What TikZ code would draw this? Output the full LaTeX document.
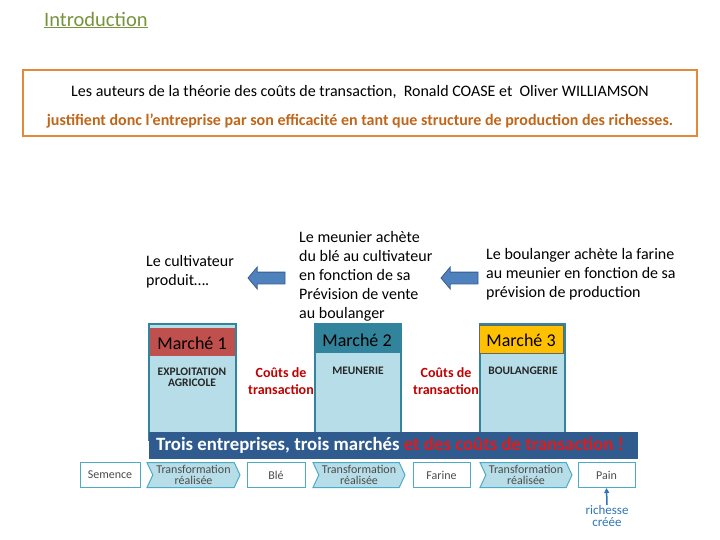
\documentclass[tikz,border=0pt]{standalone}
\usepackage{fontspec}
\setmainfont{Carlito}
\usetikzlibrary{shapes.symbols,shapes.arrows,arrows.meta}
\definecolor{introgreen}{HTML}{77933C}
\definecolor{boxorange}{HTML}{E3893A}
\definecolor{txtorange}{HTML}{C0661A}
\definecolor{arrowblue}{HTML}{4F81BD}
\definecolor{arrowedge}{HTML}{385D8A}
\definecolor{firmfill}{HTML}{B7DEE8}
\definecolor{firmedge}{HTML}{31859C}
\definecolor{mred}{HTML}{C0504D}
\definecolor{mteal}{HTML}{31849B}
\definecolor{myellow}{HTML}{FFC000}
\definecolor{banner}{HTML}{2F5B8F}
\definecolor{costred}{HTML}{C00000}
\definecolor{bannerred}{HTML}{E01B1B}
\definecolor{chainedge}{HTML}{4BACC6}
\definecolor{chainfill}{HTML}{B7DEE8}
\definecolor{richblue}{HTML}{2E75B6}
\tikzset{
  firm/.style={draw=firmedge, line width=1.2pt, fill=firmfill},
  plaintext/.style={font=\fontsize{16}{19}\selectfont, align=left, inner sep=0pt, anchor=north west},
  marche/.style={font=\fontsize{18}{20}\selectfont, inner sep=0pt},
  firmname/.style={font=\bfseries\fontsize{11.5}{11}\selectfont, text=black!85, align=center, inner sep=0pt},
  cost/.style={font=\bfseries\fontsize{14}{16.5}\selectfont, text=costred, align=center, inner sep=0pt},
  leftarrow/.style={single arrow, shape border rotate=180, draw=arrowedge, fill=arrowblue, line width=0.8pt, single arrow head extend=5pt, minimum height=37pt, inner sep=5.5pt, single arrow tip angle=100},
  chainbox/.style={draw=chainedge, line width=1pt, fill=white, minimum height=25pt, font=\fontsize{12}{12}\selectfont, text=black!70, inner sep=0pt},
  chevron/.style={signal, signal to=east, signal from=west, signal pointer angle=130, draw=chainedge, line width=1pt, fill=chainfill, minimum height=25pt, font=\fontsize{12}{11.5}\selectfont, text=black!70, align=center, inner sep=0pt}
}
\begin{document}
\begin{tikzpicture}[x=1pt,y=-1pt]
\useasboundingbox (0,0) rectangle (720,540);
% title
\node[anchor=west, inner sep=0pt, text=introgreen, font=\fontsize{20.5}{22}\selectfont] (intro) at (44,20) {\underline{Introduction}};
% orange box
\node[draw=boxorange, line width=1.2pt, minimum width=674pt, minimum height=66pt, inner sep=0pt] (frame) at (360,103) {};
\node[inner sep=0pt, font=\fontsize{16}{18}\selectfont] (line1) at (360,92) {Les auteurs de la théorie des coûts de transaction,\ \ Ronald COASE et\ \ Oliver WILLIAMSON};
\node[inner sep=0pt, font=\bfseries\fontsize{16}{18}\selectfont, text=txtorange] (line2) at (360,121) {justifient donc l’entreprise par son efficacité en tant que structure de production des richesses.};
% upper texts
\node[plaintext] (cult) at (146,255) {Le cultivateur\\produit….};
\node[plaintext] (meun) at (299,231) {Le meunier achète\\du blé au cultivateur\\en fonction de sa\\Prévision de vente\\au boulanger};
\node[plaintext] (boul) at (486,248) {Le boulanger achète la farine\\au meunier en fonction de sa\\prévision de production};
\node[leftarrow] (arr1) at (269,278) {};
\node[leftarrow] (arr2) at (462,278) {};
% firms
\draw[firm] (149,324) rectangle (236,440);
\node[fill=mred, minimum width=85pt, minimum height=28pt, inner sep=0pt] (m1box) at (192.5,342) {};
\node[marche] (m1) at (192,343) {Marché 1};
\node[firmname] (f1) at (192,377) {EXPLOITATION\\AGRICOLE};
\draw[firm] (315,324) rectangle (401,440);
\node[fill=mteal, minimum width=85pt, minimum height=29pt, inner sep=0pt] (m2box) at (358,338.5) {};
\node[marche] (m2) at (357,340) {Marché 2};
\node[firmname] (f2) at (358,371) {MEUNERIE};
\draw[firm] (480,324) rectangle (565,440);
\node[draw=black!60, line width=0.6pt, fill=myellow, minimum width=84pt, minimum height=28pt, inner sep=0pt] (m3box) at (521.5,339) {};
\node[marche] (m3) at (521,340) {Marché 3};
\node[firmname] (f3) at (523,371) {BOULANGERIE};
\node[cost] (c1) at (281,381) {Coûts de\\transaction};
\node[cost] (c2) at (446,381) {Coûts de\\transaction};
% banner
\node[fill=banner, minimum width=489pt, minimum height=27pt, inner sep=0pt] (ban) at (393.5,445) {};
\node[anchor=west, inner sep=0pt, font=\bfseries\fontsize{18.8}{20}\selectfont, text=white] (bantext) at (156,445) {Trois entreprises, trois marchés \textcolor{bannerred}{et des coûts de transaction !}};
% chain
\node[chainbox, minimum width=60pt] (sem) at (110,475) {Semence};
\node[chevron, minimum width=93pt] (t1) at (193.5,475) {Transformation\\réalisée};
\node[chainbox, minimum width=58pt] (ble) at (276,475) {Blé};
\node[chevron, minimum width=92pt] (t2) at (359,475) {Transformation\\réalisée};
\node[chainbox, minimum width=57pt] (far) at (441.5,475) {Farine};
\node[chevron, minimum width=92pt] (t3) at (526,475) {Transformation\\réalisée};
\node[chainbox, minimum width=57pt] (pain) at (606.5,475) {Pain};
\node[inner sep=0pt, align=center, font=\fontsize{13}{12.5}\selectfont, text=richblue] (rich) at (607,516) {richesse\\créée};
\draw[richblue, line width=1.5pt, -{Triangle[length=5pt,width=5pt]}] (rich.north) -- (pain.south);
\end{tikzpicture}
\end{document}
